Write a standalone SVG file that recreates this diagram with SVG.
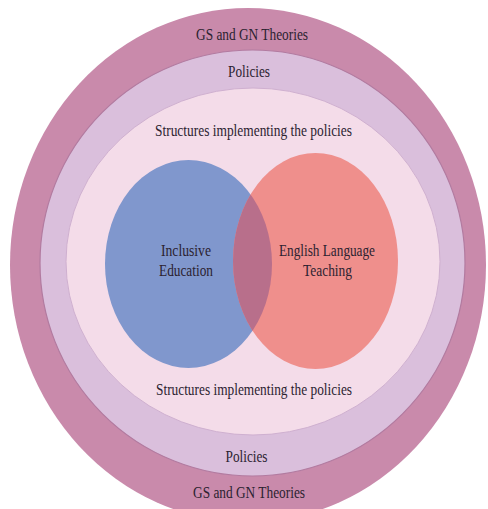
<svg xmlns="http://www.w3.org/2000/svg" width="488" height="509" viewBox="0 0 488 509">
  <style>
    .lbl { font-family: "Liberation Serif", "Times New Roman", serif; font-size: 16px; fill: #2b2230; text-anchor: middle; }
  </style>
  <defs>
    <clipPath id="clipBlue">
      <ellipse cx="188.5" cy="264" rx="83.5" ry="104"/>
    </clipPath>
  </defs>
  <rect width="488" height="509" fill="#ffffff"/>

  <!-- Outer ring: theories -->
  <g id="ring-theories">
    <ellipse cx="248" cy="265" rx="238" ry="257" fill="#c98aab"/>
    <text class="lbl" x="252" y="40" textLength="112" lengthAdjust="spacingAndGlyphs">GS and GN Theories</text>
    <text class="lbl" x="249" y="498" textLength="112" lengthAdjust="spacingAndGlyphs">GS and GN Theories</text>
  </g>

  <!-- Middle ring: policies -->
  <g id="ring-policies">
    <ellipse cx="252.5" cy="263" rx="212.5" ry="213" fill="#dabfdc" stroke="#b27ba0" stroke-width="1.2"/>
    <text class="lbl" x="249" y="77" textLength="42" lengthAdjust="spacingAndGlyphs">Policies</text>
    <text class="lbl" x="246.5" y="462" textLength="42" lengthAdjust="spacingAndGlyphs">Policies</text>
  </g>

  <!-- Inner ring: structures -->
  <g id="ring-structures">
    <ellipse cx="253" cy="261.5" rx="187" ry="173.5" fill="#f4dce9" stroke="#cfb0d0" stroke-width="1"/>
    <text class="lbl" x="253.5" y="136" textLength="197" lengthAdjust="spacingAndGlyphs">Structures implementing the policies</text>
    <text class="lbl" x="254" y="395" textLength="196" lengthAdjust="spacingAndGlyphs">Structures implementing the policies</text>
  </g>

  <!-- Venn: inclusive education -->
  <g id="inclusive-education">
    <ellipse cx="188.5" cy="264" rx="83.5" ry="104" fill="#8097cd"/>
  </g>

  <!-- Venn: English language teaching -->
  <g id="english-language-teaching">
    <ellipse cx="315.5" cy="261" rx="82.5" ry="108" fill="#ef8f8c"/>
  </g>

  <!-- Overlap of the two sets -->
  <g id="overlap">
    <ellipse cx="315.5" cy="261" rx="82.5" ry="108" fill="#b86f8b" clip-path="url(#clipBlue)"/>
  </g>

  <g id="venn-labels">
    <text class="lbl" x="186" y="256" textLength="50" lengthAdjust="spacingAndGlyphs">Inclusive</text>
    <text class="lbl" x="186" y="276" textLength="54" lengthAdjust="spacingAndGlyphs">Education</text>
    <text class="lbl" x="327" y="256" textLength="96" lengthAdjust="spacingAndGlyphs">English Language</text>
    <text class="lbl" x="327.5" y="276" textLength="49" lengthAdjust="spacingAndGlyphs">Teaching</text>
  </g>
</svg>
